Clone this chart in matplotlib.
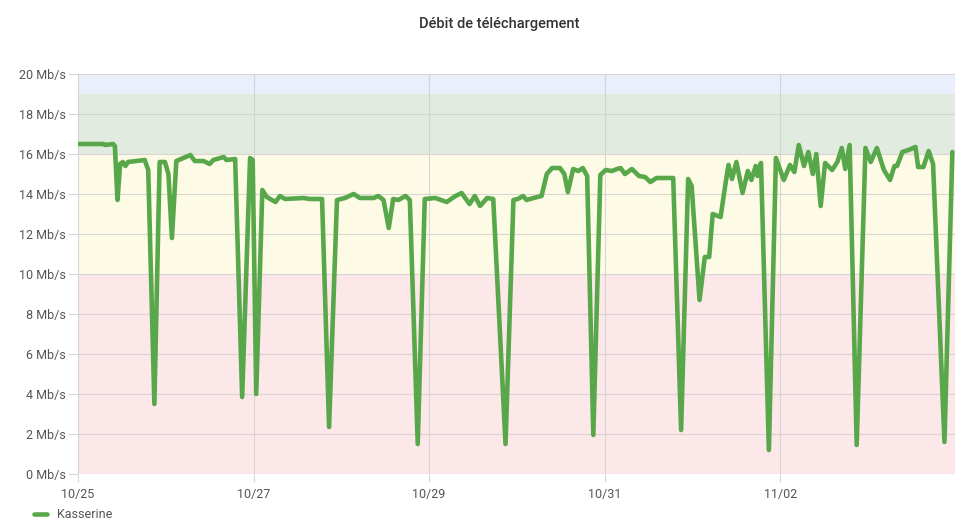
import matplotlib.pyplot as plt
import numpy as np
from datetime import datetime, timedelta
import matplotlib.dates as mdates

# time in days since 10/25 00:00, download rate in Mb/s
days = [0.00, 0.29, 0.31, 0.40, 0.42, 0.45, 0.48, 0.51, 0.54, 0.57, 0.67, 0.76,
        0.80, 0.87, 0.93, 0.99, 1.03, 1.07, 1.12, 1.20, 1.28, 1.33, 1.43, 1.50,
        1.54, 1.66, 1.69, 1.79, 1.87, 1.96, 1.99, 2.03, 2.10, 2.15, 2.25, 2.30,
        2.36, 2.57, 2.64, 2.78, 2.86, 2.95, 3.04, 3.14, 3.21, 3.37, 3.42, 3.48,
        3.54, 3.59, 3.65, 3.73, 3.78, 3.87, 3.95, 4.07, 4.20, 4.30, 4.37, 4.46,
        4.52, 4.58, 4.66, 4.73, 4.87, 4.96, 5.01, 5.07, 5.11, 5.19, 5.28, 5.34,
        5.40, 5.49, 5.54, 5.58, 5.64, 5.70, 5.75, 5.80, 5.87, 5.95, 6.01, 6.08,
        6.14, 6.18, 6.23, 6.31, 6.39, 6.46, 6.52, 6.59, 6.63, 6.78, 6.87, 6.95,
        6.99, 7.08, 7.14, 7.19, 7.23, 7.32, 7.37, 7.41, 7.45, 7.50, 7.57, 7.63,
        7.67, 7.72, 7.74, 7.78, 7.87, 7.95, 8.04, 8.11, 8.16, 8.21, 8.27, 8.32,
        8.37, 8.41, 8.46, 8.51, 8.59, 8.65, 8.70, 8.74, 8.79, 8.87, 8.97, 9.03,
        9.10, 9.18, 9.25, 9.30, 9.33, 9.39, 9.46, 9.54, 9.57, 9.63, 9.69, 9.74,
        9.87, 9.96]
rate = [16.5, 16.5, 16.45, 16.5, 16.4, 13.7, 15.5, 15.6, 15.4, 15.6, 15.65, 15.7,
        15.2, 3.5, 15.6, 15.6, 15.0, 11.8, 15.65, 15.8, 15.95, 15.65, 15.65, 15.5,
        15.7, 15.85, 15.7, 15.75, 3.85, 15.8, 15.7, 4.0, 14.2, 13.85, 13.6, 13.9,
        13.75, 13.8, 13.75, 13.75, 2.35, 13.7, 13.8, 14.0, 13.8, 13.8, 13.9, 13.7,
        12.3, 13.75, 13.7, 13.9, 13.7, 1.5, 13.75, 13.8, 13.6, 13.9, 14.05, 13.5,
        13.9, 13.4, 13.8, 13.75, 1.5, 13.7, 13.75, 13.9, 13.7, 13.8, 13.9, 15.0,
        15.3, 15.3, 15.0, 14.1, 15.25, 15.15, 15.3, 14.9, 1.95, 14.95, 15.2, 15.15,
        15.25, 15.3, 15.0, 15.25, 14.9, 14.85, 14.6, 14.8, 14.8, 14.8, 2.2, 14.75,
        14.4, 8.7, 10.85, 10.85, 13.0, 12.85, 14.35, 15.45, 14.75, 15.6, 14.05, 15.15,
        14.7, 15.4, 14.9, 15.55, 1.2, 15.8, 14.7, 15.45, 15.1, 16.45, 15.4, 16.1,
        15.0, 16.0, 13.4, 15.55, 15.2, 15.6, 16.3, 15.25, 16.45, 1.45, 16.3, 15.6,
        16.3, 15.2, 14.7, 15.4, 15.4, 16.1, 16.2, 16.35, 15.35, 15.35, 16.15, 15.5,
        1.6, 16.1]

series_name = "Kasserine"
title = "Débit de téléchargement"

# quality bands (lower, upper, colour)
bands = [(0, 10, "#fde8e9"), (10, 16, "#fdfbe6"), (16, 19, "#e2ebdf"), (19, 20, "#e9effb")]

start = datetime(2023, 10, 25)
times = [start + timedelta(days=d) for d in days]

plt.rcParams['font.family'] = ['Roboto', 'DejaVu Sans']

fig = plt.figure(figsize=(9.55, 5.21), dpi=100)
ax = fig.add_axes([78 / 955, 1 - 474 / 521, 1 - 78 / 955, (474 - 74) / 521])

for lo, hi, col in bands:
    ax.axhspan(lo, hi, color=col, lw=0, zorder=0)

ax.plot(times, rate, color="#58a84b", lw=3.3, solid_joinstyle="round",
        solid_capstyle="round", zorder=3, label=series_name)

ax.set_ylim(0, 20)
ax.set_xlim(start, start + timedelta(days=9.99))
ax.set_yticks(np.arange(0, 21, 2))
ax.set_yticklabels([f"{v} Mb/s" for v in range(0, 21, 2)])
ax.xaxis.set_major_locator(mdates.DayLocator(interval=2))
ax.xaxis.set_major_formatter(mdates.DateFormatter("%m/%d"))

ax.grid(True, color="#cfcfcf", lw=0.8, alpha=0.8, zorder=1)
ax.set_axisbelow(True)
for s in ax.spines.values():
    s.set_visible(False)
ax.tick_params(axis="y", length=7, color="#d8d8d8", labelsize=9, labelcolor="#555555", pad=2)
ax.tick_params(axis="x", length=6, color="#d8d8d8", labelsize=9, labelcolor="#555555", pad=4)

fig.text(499 / 955, 1 - 24 / 521, title, ha="center", va="center",
         fontsize=10.5, fontweight="medium", color="#333333")

leg = fig.legend(loc="lower left", bbox_to_anchor=(0.024, -0.022), frameon=False,
                 fontsize=9, handlelength=1.05, handletextpad=0.8)
for t in leg.get_texts():
    t.set_color("#555555")

fig.savefig("out.png", dpi=100)
